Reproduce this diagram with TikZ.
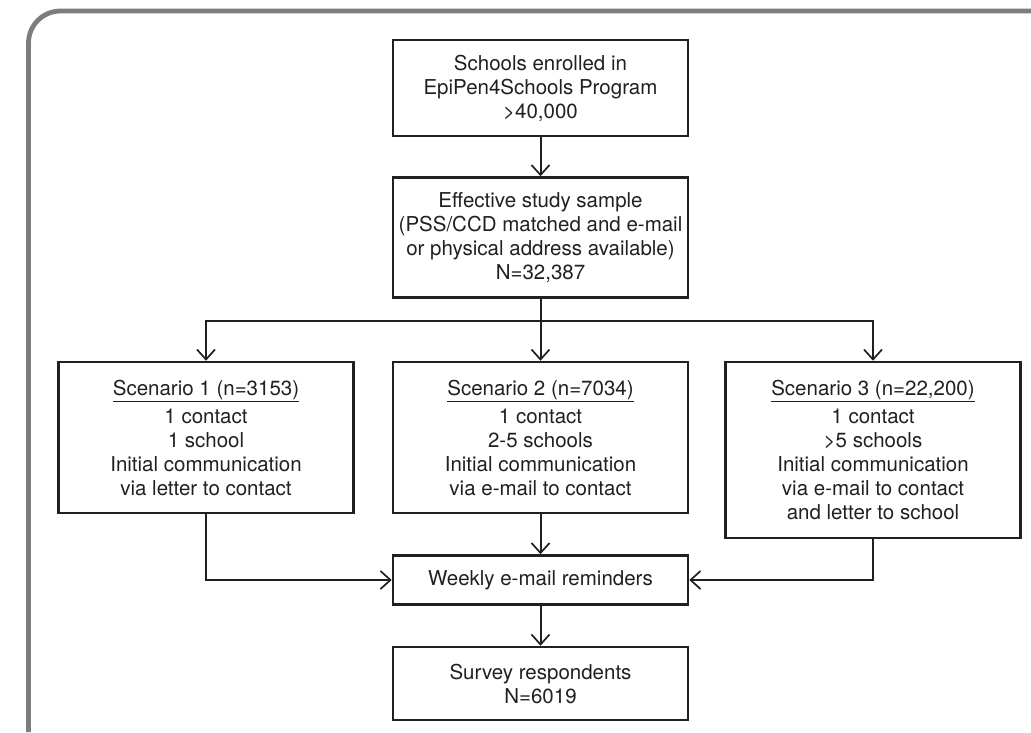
\documentclass[tikz,border=0pt]{standalone}
\usepackage{fontspec}
\setmainfont{TeX Gyre Heros}
\usetikzlibrary{positioning, arrows.meta}
\definecolor{boxline}{HTML}{231F20}
\definecolor{framegray}{HTML}{7D7D7D}

\begin{document}
\begin{tikzpicture}[x=1pt, y=1pt,
        block/.style={draw=boxline, line width=2.5pt, rectangle, minimum width=295pt, inner xsep=1pt, align=center, text=boxline, font=\fontsize{20.5}{24}\selectfont},
        conn/.style={draw=boxline, line width=2pt},
        frame/.style={draw=framegray, line width=4.8pt, rounded corners=32pt},
        node distance=40pt, >={Straight Barb[length=10pt, width=18pt, line width=1.7pt]}]

        % Moldura
        \useasboundingbox (0,0) rectangle (1031,-732);
        \draw[frame] (28.5,-732) -- (28.5,-11) -- (1031,-11);

        % Nós do diagrama
        \node (enrolled) [block, minimum height=96pt] at (540.5,-88) {Schools enrolled in\\EpiPen4Schools Program\\>40,000};
        \node (sample) [block, minimum height=120pt, below=39pt of enrolled] {Effective study sample\\(PSS/CCD matched and e-mail\\or physical address available)\\N=32,387};
        \node (sc2) [block, minimum height=151pt, below=62pt of sample] {\underline{Scenario 2 (n=7034)}\\[4pt]1 contact\\2-5 schools\\Initial communication\\via e-mail to contact};
        \node (sc1) [block, minimum height=151pt, left=37pt of sc2] {\underline{Scenario 1 (n=3153)}\\[4pt]1 contact\\1 school\\Initial communication\\via letter to contact};
        \node (sc3) [block, minimum height=176pt, right=35pt of sc2.north east, anchor=north west] {\underline{Scenario 3 (n=22,200)}\\[4pt]1 contact\\>5 schools\\Initial communication\\via e-mail to contact\\and letter to school};
        \node (weekly) [block, minimum height=49pt, below=40pt of sc2] {Weekly e-mail reminders};
        \node (survey) [block, minimum height=73pt, below=40pt of weekly] {Survey respondents\\N=6019};

        % Ramificação
        \node (split) [coordinate, below=22pt of sample] {};

        % Conexões
        \draw[conn, ->] (enrolled) -- (sample);
        \draw[conn] (sample) -- (split);
        \draw[conn, ->] (split) -| (sc1);
        \draw[conn, ->] (split) -- (sc2);
        \draw[conn, ->] (split) -| (sc3);
        \draw[conn, ->] (sc1) |- (weekly);
        \draw[conn, ->] (sc2) -- (weekly);
        \draw[conn, ->] (sc3) |- (weekly);
        \draw[conn, ->] (weekly) -- (survey);

\end{tikzpicture}
\end{document}
